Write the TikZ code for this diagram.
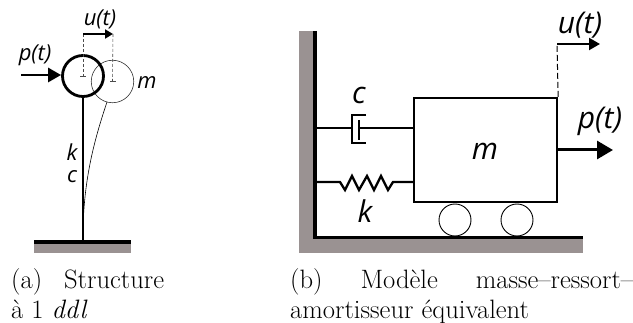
\documentclass[tikz,border=0pt]{standalone}
\usepackage{fontspec}
\newfontfamily\labelfont{Open Sans}
\usetikzlibrary{arrows.meta,calc}
\definecolor{wallgray}{HTML}{9A9292}
\tikzset{
  bigtext/.style={font=\labelfont\itshape\fontsize{30}{34}\selectfont,inner sep=0pt},
  smalltext/.style={font=\labelfont\itshape\fontsize{22}{26}\selectfont,inner sep=0pt},
  captext/.style={font=\fontsize{26.6}{30}\selectfont,inner sep=0pt,anchor=north west,align=left},
  wall/.style={fill=wallgray,draw=none},
  heavy/.style={line width=3.3pt,draw=black},
  column/.style={line width=2.7pt,draw=black},
  medium/.style={line width=2.3pt,draw=black},
  thinline/.style={line width=0.6pt,draw=black},
  force/.style={line width=2.8pt,-{Triangle[length=13pt,width=14pt]}},
  bigforce/.style={line width=3pt,-{Triangle[length=16pt,width=18pt]}},
  disp/.style={line width=1.8pt,-{Triangle[length=8pt,width=9pt]}},
  bigdisp/.style={line width=2.2pt,-{Triangle[length=11pt,width=12pt]}},
  guide/.style={line width=0.6pt,densely dashed,draw=black!70},
}
\begin{document}
\begin{tikzpicture}[x=1pt,y=-1pt]
\useasboundingbox (0,0) rectangle (633,323);
% --- (a) structure
\fill[wall] (34,243) rectangle (131,253);
\coordinate (base) at (83,242);
\coordinate (baseL) at (34,242);
\coordinate (baseR) at (131,242);
\draw[heavy] (baseL) -- (baseR);
\node[circle,minimum size=42.5pt,inner sep=0pt,line width=0.6pt,draw=black!80] (massB) at (112.5,81.5) {};
\node[circle,minimum size=41pt,inner sep=0pt,line width=2.8pt,draw=black] (massA) at (83,76) {};
\draw[column] (massA.south) -- (base);
\coordinate (bendS) at (107,102);
\coordinate (bendE) at (83,230);
\draw[thinline] (bendS) .. controls (96,135) and (84,175) .. (bendE);
\coordinate (uA) at (83,34);
\coordinate (uB) at (113,34);
\draw[guide] (uA) -- (massA.center);
\draw[guide] (uB) -- (massB.center);
\draw[thinline,draw=black!70] (80,76) -- (86,76) (110,81.5) -- (116,81.5);
\draw[disp] (uA) -- (uB);
\coordinate (pA) at (21,75);
\draw[force] (pA) -- (massA.west |- pA);
\node[smalltext] (lu1) at (100,19) {u(t)};
\node[smalltext] (lp1) at (35,55) {p(t)};
\node[smalltext] (lm1) at (147,83) {m};
\node[smalltext] (lk1) at (72,152) {k};
\node[smalltext] (lc1) at (72,177) {c};
\node[captext] (capa) at (11,268) {\makebox[153pt][s]{(a) Structure}\\à 1 \textit{ddl}};
% --- (b) model
\fill[wall] (299,31) rectangle (314,253);
\fill[wall] (299,238) rectangle (583,253);
\coordinate (wallT) at (315,31);
\coordinate (corner) at (315,237.5);
\coordinate (floorE) at (583,237.5);
\draw[heavy,line join=miter] (wallT) -- (corner) -- (floorE);
\node[rectangle,medium,minimum width=143pt,minimum height=104pt,inner sep=0pt] (mass) at (485.5,150) {};
\node[circle,line width=0.9pt,draw=black,minimum size=32pt,inner sep=0pt] (w1) at (455,220) {};
\node[circle,line width=0.9pt,draw=black,minimum size=32pt,inner sep=0pt] (w2) at (517,220) {};
\coordinate (dL) at (315,128);
\coordinate (dR) at (mass.west |- dL);
\coordinate (sL) at (315,182);
\coordinate (sR) at (mass.west |- sL);
\draw[medium] (dL) -- (352,128);
\draw[medium,line join=miter] (366,115) -- (352,115) -- (352,143) -- (366,143);
\draw[medium] (359,120) -- (359,140);
\draw[medium] (359,128) -- (dR);
\draw[medium,line join=miter] (sL) -- (340,182) -- (345,190) -- (352,176) -- (359,190) -- (367,176) -- (374,190) -- (381,176) -- (388,190) -- (393,182) -- (sR);
\coordinate (uC) at (mass.north east);
\coordinate (uD) at (557,44);
\coordinate (uE) at (600,44);
\draw[line width=1pt,dash pattern=on 6pt off 3pt] (uC) -- (uD);
\draw[bigdisp] (uD) -- (uE);
\coordinate (pE) at (613,150);
\draw[bigforce] (mass.east) -- (pE);
\node[bigtext] (lc2) at (359,95) {c};
\node[bigtext] (lk2) at (365,211) {k};
\node[bigtext] (lm2) at (485,151) {m};
\node[bigtext] (lu2) at (580,25) {u(t)};
\node[bigtext] (lp2) at (600,121) {p(t)};
\node[captext] (capb) at (290,268) {\makebox[343pt][s]{(b) Modèle masse–ressort–}\\amortisseur équivalent};
\end{tikzpicture}
\end{document}
